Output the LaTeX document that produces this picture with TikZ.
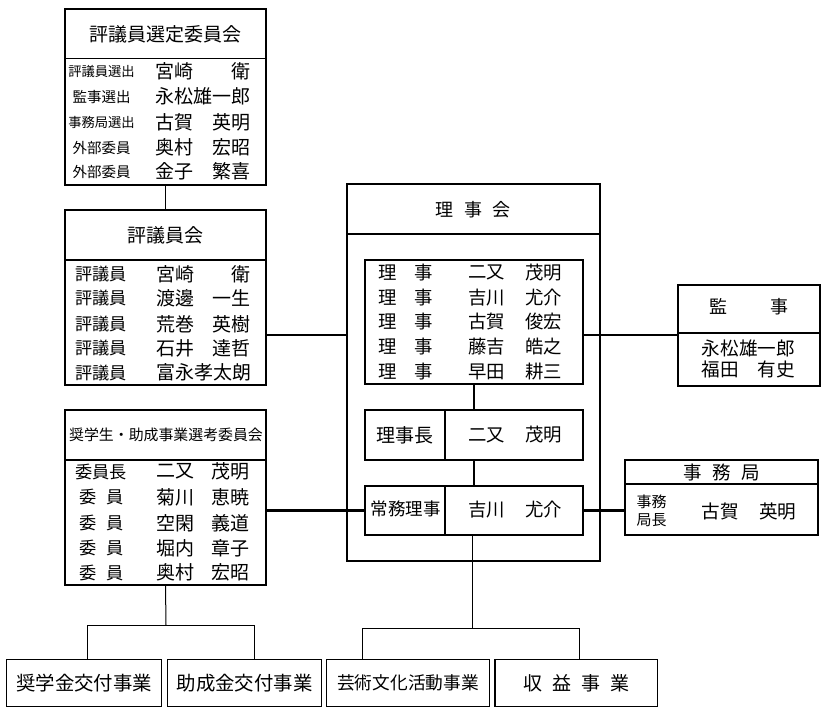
\documentclass[tikz,border=0pt]{standalone}
\usepackage{fontspec}
\setmainfont{Noto Sans CJK JP}
\begin{document}
\begin{tikzpicture}[x=1pt,y=-1pt,
  box/.style={draw, rectangle, line width=#1, inner sep=0pt, outer sep=0pt},
  txt/.style={inner sep=0pt, outer sep=0pt, font=\fontsize{#1}{#1}\selectfont},
  sepline/.style={line width=#1},
  conn/.style={line width=#1}]
\useasboundingbox (0,0) rectangle (829,715);

% ---------- Box A ----------
\node[box=2.3pt, minimum width=201pt, minimum height=176pt] (A) at (165.5,97) {};
\coordinate (sA) at (0,58.3);
\draw[sepline=1.6pt] (A.west |- sA) -- (A.east |- sA);
\node[txt=19] (At) at (165.5,34) {評議員選定委員会};
\node[txt=13.3] (Al1) at (101.5,71.7) {評議員選出};
\node[txt=19,anchor=west] (Af1) at (155,71.7) {宮崎};
\node[txt=19,anchor=east] (Ag1) at (250,71.7) {衛};
\node[txt=14.5] (Al2) at (101.5,96.7) {監事選出};
\node[txt=19,anchor=west] (Af2) at (155,96.7) {永松雄一郎};
\node[txt=13.3] (Al3) at (101.5,122.3) {事務局選出};
\node[txt=19,anchor=west] (Af3) at (155,122.3) {古賀};
\node[txt=19,anchor=east] (Ag3) at (250,122.3) {英明};
\node[txt=14.5] (Al4) at (101.5,147.7) {外部委員};
\node[txt=19,anchor=west] (Af4) at (155,147.7) {奥村};
\node[txt=19,anchor=east] (Ag4) at (250,147.7) {宏昭};
\node[txt=14.5] (Al5) at (101.5,171.7) {外部委員};
\node[txt=19,anchor=west] (Af5) at (155,171.7) {金子};
\node[txt=19,anchor=east] (Ag5) at (250,171.7) {繁喜};

% ---------- Box B ----------
\node[box=2.3pt, minimum width=201pt, minimum height=175pt] (B) at (165.5,297.5) {};
\coordinate (sB) at (0,260);
\draw[sepline=1.3pt] (B.west |- sB) -- (B.east |- sB);
\node[txt=19] (Bt) at (165.5,235) {評議員会};
\node[txt=17.2] (Bl1) at (101.3,274) {評議員};
\node[txt=19,anchor=west] (Bf1) at (156,274) {宮崎};
\node[txt=19,anchor=east] (Bg1) at (250,274) {衛};
\node[txt=17.2] (Bl2) at (101.3,298.3) {評議員};
\node[txt=19,anchor=west] (Bf2) at (156,298.3) {渡邊};
\node[txt=19,anchor=east] (Bg2) at (250,298.3) {一生};
\node[txt=17.2] (Bl3) at (101.3,324) {評議員};
\node[txt=19,anchor=west] (Bf3) at (156,324) {荒巻};
\node[txt=19,anchor=east] (Bg3) at (250,324) {英樹};
\node[txt=17.2] (Bl4) at (101.3,348.3) {評議員};
\node[txt=19,anchor=west] (Bf4) at (156,348.3) {石井};
\node[txt=19,anchor=east] (Bg4) at (250,348.3) {達哲};
\node[txt=17.2] (Bl5) at (101.3,372.7) {評議員};
\node[txt=19,anchor=west] (Bf5) at (156,372.7) {富永孝太朗};

% ---------- Box C ----------
\node[box=2.3pt, minimum width=201pt, minimum height=175pt] (C) at (165.5,497.5) {};
\coordinate (sC) at (0,460);
\draw[sepline=1.3pt] (C.west |- sC) -- (C.east |- sC);
\node[txt=14.9] (Ct) at (166,435) {奨学生・助成事業選考委員会};
\node[txt=17.2] (Cl1) at (101.3,471.7) {委員長};
\node[txt=19,anchor=west] (Cf1) at (156,471.7) {二又};
\node[txt=19,anchor=east] (Cg1) at (249.3,471.7) {茂明};
\node[txt=17.2] (Cl2) at (101.7,497.3) {委\hspace{9.5pt}員};
\node[txt=19,anchor=west] (Cf2) at (156,497.3) {菊川};
\node[txt=19,anchor=east] (Cg2) at (249.3,497.3) {恵暁};
\node[txt=17.2] (Cl3) at (101.7,523.3) {委\hspace{9.5pt}員};
\node[txt=19,anchor=west] (Cf3) at (156,523.3) {空閑};
\node[txt=19,anchor=east] (Cg3) at (249.3,523.3) {義道};
\node[txt=17.2] (Cl4) at (101.7,548.3) {委\hspace{9.5pt}員};
\node[txt=19,anchor=west] (Cf4) at (156,548.3) {堀内};
\node[txt=19,anchor=east] (Cg4) at (249.3,548.3) {章子};
\node[txt=17.2] (Cl5) at (101.7,572.7) {委\hspace{9.5pt}員};
\node[txt=19,anchor=west] (Cf5) at (156,572.7) {奥村};
\node[txt=19,anchor=east] (Cg5) at (249.3,572.7) {宏昭};

% ---------- 理事会 ----------
\node[box=1.7pt, minimum width=253.3pt, minimum height=377pt] (R) at (473.3,372.5) {};
\coordinate (sR) at (0,234.3);
\draw[sepline=1.7pt] (R.west |- sR) -- (R.east |- sR);
\node[txt=18] (Rt) at (473.3,210) {理\hspace{10.5pt}事\hspace{10.5pt}会};

\node[box=1.7pt, minimum width=217.7pt, minimum height=124pt] (R1) at (473.8,322) {};
\node[txt=18.4] (R1l1) at (405.8,272.7) {理\hspace{17pt}事};
\node[txt=18.4,anchor=west] (R1f1) at (468.3,272.7) {二又};
\node[txt=18.4,anchor=west] (R1g1) at (525,272.7) {茂明};
\node[txt=18.4] (R1l2) at (405.8,297.3) {理\hspace{17pt}事};
\node[txt=18.4,anchor=west] (R1f2) at (468.3,297.3) {吉川};
\node[txt=18.4,anchor=west] (R1g2) at (525,297.3) {尤介};
\node[txt=18.4] (R1l3) at (405.8,321.7) {理\hspace{17pt}事};
\node[txt=18.4,anchor=west] (R1f3) at (468.3,321.7) {古賀};
\node[txt=18.4,anchor=west] (R1g3) at (525,321.7) {俊宏};
\node[txt=18.4] (R1l4) at (405.8,346.7) {理\hspace{17pt}事};
\node[txt=18.4,anchor=west] (R1f4) at (468.3,346.7) {藤吉};
\node[txt=18.4,anchor=west] (R1g4) at (525,346.7) {皓之};
\node[txt=18.4] (R1l5) at (405.8,371.7) {理\hspace{17pt}事};
\node[txt=18.4,anchor=west] (R1f5) at (468.3,371.7) {早田};
\node[txt=18.4,anchor=west] (R1g5) at (525,371.7) {耕三};

\coordinate (dv) at (445,0);
\node[box=1.7pt, minimum width=217.7pt, minimum height=50pt] (R2) at (473.8,435) {};
\draw[sepline=1.5pt] (R2.north -| dv) -- (R2.south -| dv);
\node[txt=19] (R2l) at (405,435) {理事長};
\node[txt=18.4,anchor=west] (R2f) at (468.3,435) {二又};
\node[txt=18.4,anchor=west] (R2g) at (525,435) {茂明};

\node[box=1.7pt, minimum width=217.7pt, minimum height=49pt] (R3) at (473.8,510.5) {};
\draw[sepline=1.5pt] (R3.north -| dv) -- (R3.south -| dv);
\node[txt=17.5] (R3l) at (405.8,509.3) {常務理事};
\node[txt=18.4,anchor=west] (R3f) at (468.3,509.3) {吉川};
\node[txt=18.4,anchor=west] (R3g) at (525,509.3) {尤介};

% ---------- 監事 ----------
\node[box=2pt, minimum width=141.7pt, minimum height=101pt] (K) at (749.2,335.5) {};
\coordinate (sK) at (0,333.3);
\draw[sepline=1.7pt] (K.west |- sK) -- (K.east |- sK);
\node[txt=18] (Kt) at (748.8,306.7) {監\hspace{43pt}事};
\node[txt=18.6] (Kn1) at (748.4,348.3) {永松雄一郎};
\node[txt=18.6,anchor=west] (Kf2) at (701.7,369.3) {福田};
\node[txt=18.6,anchor=east] (Kg2) at (795,369.3) {有史};

% ---------- 事務局 ----------
\node[box=2pt, minimum width=193.3pt, minimum height=75pt] (J) at (721.7,497.5) {};
\coordinate (sJ) at (0,484.3);
\draw[sepline=2pt] (J.west |- sJ) -- (J.east |- sJ);
\node[txt=18.5] (Jt) at (721.7,472.7) {事\hspace{10.5pt}務\hspace{10.5pt}局};
\node[inner sep=0pt, outer sep=0pt, align=center, font=\fontsize{15}{18.5}\selectfont] (Jl) at (651.7,511) {事務\\局長};
\node[txt=18.6,anchor=west] (Jf) at (701.7,511.7) {古賀};
\node[txt=18.6,anchor=west] (Jg) at (759,511.7) {英明};

% ---------- bottom boxes ----------
\node[box=1.3pt, minimum width=155pt, minimum height=47.4pt] (D1) at (84.2,683) {};
\node[txt=19.4] (D1t) at (D1.center) {奨学金交付事業};
\node[box=1.3pt, minimum width=154.4pt, minimum height=47.4pt] (D2) at (244.5,683) {};
\node[txt=19.4] (D2t) at (D2.center) {助成金交付事業};
\node[box=1.3pt, minimum width=162.6pt, minimum height=47.4pt] (D3) at (408,683) {};
\node[txt=17.7] (D3t) at (D3.center) {芸術文化活動事業};
\node[box=1.3pt, minimum width=162.3pt, minimum height=47.4pt] (D4) at (576.2,683) {};
\node[txt=19] (D4t) at (576.5,683) {収\hspace{10pt}益\hspace{10pt}事\hspace{10pt}業};

% ---------- connectors ----------
\coordinate (m1) at (0,335);
\draw[conn=1pt] (A.south) -- (B.north);
\draw[conn=1.5pt] (B.east |- m1) -- (R.west |- m1);
\draw[conn=1.5pt] (R1.east |- m1) -- (K.west |- m1);
\draw[conn=1.5pt] (R1.south) -- (R2.north);
\draw[conn=1.5pt] (R2.south) -- (R3.north);
\draw[conn=2.7pt] (C.east |- R3.west) -- (R3.west);
\draw[conn=2.7pt] (R3.east) -- (J.west |- R3.east);

\coordinate (jc) at (166,625);
\draw[conn=1pt] (C.south) -- (jc);
\draw[conn=1pt] ([xshift=3.1pt]D1.north) |- (jc) -| ([xshift=9.8pt]D2.north);
\coordinate (jr) at (472.7,628.3);
\draw[conn=1pt] (R3.south -| jr) -- (jr);
\draw[conn=1pt] ([xshift=-45.3pt]D3.north) |- (jr) -| ([xshift=3.1pt]D4.north);
\end{tikzpicture}
\end{document}
